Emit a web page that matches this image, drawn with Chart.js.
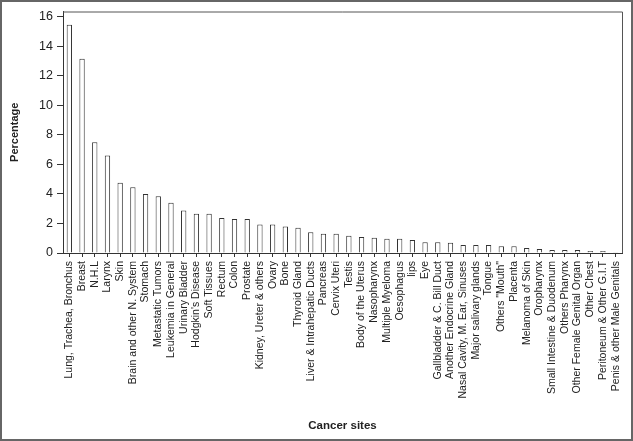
<!DOCTYPE html>
<html>
<head>
<meta charset="utf-8">
<script src="https://cdn.jsdelivr.net/npm/chart.js@4"></script>
<style>
  html, body { margin: 0; padding: 0; background: #fff; }
  #wrap { width: 633px; height: 441px; position: relative; }
</style>
</head>
<body>
<div id="wrap"><canvas id="grafico"></canvas></div>
<script>
// Sitios de cáncer (eje x) y porcentaje de casos
const sitios = [
    'Lung, Trachea, Bronchus', 'Breast', 'N.H.L', 'Larynx', 'Skin',
    'Brain and other N. System', 'Stomach', 'Metastatic Tumors', 'Leukemia in General',
    'Urinary Bladder', "Hodgkin's Disease", 'Soft Tissues', 'Rectum', 'Colon', 'Prostate',
    'Kidney, Ureter & others', 'Ovary', 'Bone', 'Thyroid Gland', 'Liver & Intrahepatic Ducts',
    'Pancreas', 'Cervix Uteri', 'Testis', 'Body of the Uterus', 'Nasopharynx',
    'Multiple Myeloma', 'Oesophagus', 'lips', 'Eye', 'Gallbladder & C. Bill Duct',
    'Another Endocrine Gland', 'Nasal Cavity, M. Ear, Sinuses', 'Major salivary glands',
    'Tongue', 'Others "Mouth"', 'Placenta', 'Melanoma of Skin', 'Oropharynx',
    'Small Intestine & Duodenum', 'Others Pharynx', 'Other Female Genital Organ',
    'Other Chest', 'Peritoneum & Other G.I.T', 'Penis & other Male Genitals'
];

const porcentajes = [
    15.45, 13.15, 7.5, 6.6, 4.75, 4.45, 4.0, 3.85, 3.4, 2.87,
    2.65, 2.65, 2.37, 2.3, 2.3, 1.93, 1.93, 1.8, 1.71, 1.41,
    1.3, 1.3, 1.17, 1.08, 1.03, 0.97, 0.97, 0.88, 0.72, 0.72,
    0.7, 0.54, 0.54, 0.54, 0.45, 0.45, 0.34, 0.27, 0.2, 0.2,
    0.2, 0.13, 0.13, 0.05
];

const ticksY = [0, 2, 4, 6, 8, 10, 12, 14, 16];

// Marco del área del gráfico y borde exterior de la imagen
const marcoPlugin = {
    id: 'marco',
    afterDraw(chart) {
        const { ctx, chartArea } = chart;
        ctx.save();
        ctx.strokeStyle = '#555';
        ctx.lineWidth = 1;
        ctx.beginPath();
        ctx.moveTo(chartArea.left, chartArea.top + 0.5);
        ctx.lineTo(chartArea.right + 0.5, chartArea.top + 0.5);
        ctx.lineTo(chartArea.right + 0.5, chartArea.bottom);
        ctx.stroke();
        ctx.strokeStyle = '#666';
        ctx.lineWidth = 2;
        ctx.strokeRect(1, 1, chart.width - 2, chart.height - 2);
        ctx.restore();
    }
};

Chart.defaults.font.family = '"Liberation Sans", Arial, sans-serif';
Chart.defaults.color = '#222';

new Chart(document.getElementById('grafico'), {
    type: 'bar',
    data: {
        labels: sitios,
        datasets: [{
            data: porcentajes,
            backgroundColor: '#fff',
            borderColor: '#333',
            borderWidth: 1,
            categoryPercentage: 1,
            barPercentage: 0.42
        }]
    },
    options: {
        responsive: true,
        maintainAspectRatio: false,
        animation: false,
        layout: { padding: { top: 10, right: 11, bottom: 6, left: 4 } },
        plugins: {
            legend: { display: false },
            tooltip: { enabled: false }
        },
        scales: {
            x: {
                grid: {
                    display: true,
                    offset: false,
                    drawOnChartArea: false,
                    drawTicks: true,
                    tickLength: 4,
                    color: '#333'
                },
                border: { display: true, color: '#333', width: 1 },
                ticks: {
                    autoSkip: false,
                    minRotation: 90,
                    maxRotation: 90,
                    padding: 4,
                    font: { size: 10.5 },
                    color: '#222'
                },
                title: {
                    display: true,
                    text: 'Cancer sites',
                    font: { size: 11.5, weight: 'bold' },
                    color: '#222',
                    padding: { top: 0, bottom: 2 }
                },
                afterFit(scale) { scale.height = 182; }
            },
            y: {
                min: 0,
                max: 16.35,
                afterBuildTicks(scale) {
                    scale.ticks = ticksY.map(v => ({ value: v }));
                },
                grid: {
                    display: true,
                    drawOnChartArea: false,
                    tickLength: 6,
                    color: '#333'
                },
                border: { display: true, color: '#333', width: 1 },
                ticks: {
                    padding: 4,
                    font: { size: 12.5 },
                    color: '#222'
                },
                title: {
                    display: true,
                    text: 'Percentage',
                    font: { size: 11, weight: 'bold' },
                    color: '#222',
                    padding: { top: 4, bottom: 0 }
                },
                afterFit(scale) { scale.width = 59; }
            }
        }
    },
    plugins: [marcoPlugin]
});
</script>
</body>
</html>
